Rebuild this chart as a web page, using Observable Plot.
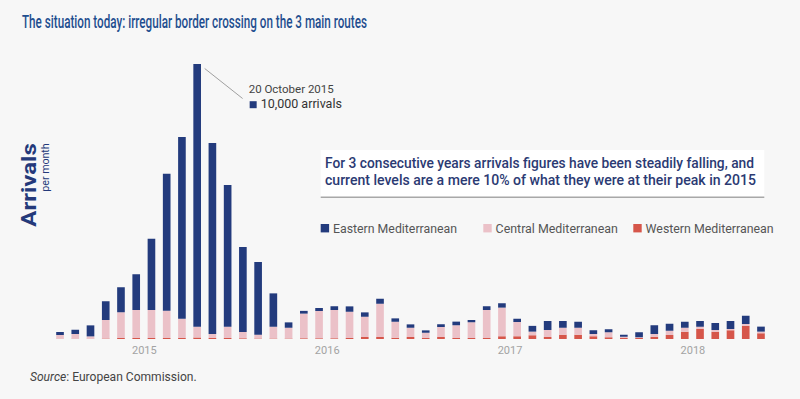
<!DOCTYPE html>
<html>
<head>
<meta charset="utf-8">
<script src="https://cdn.jsdelivr.net/npm/d3@7"></script>
<script src="https://cdn.jsdelivr.net/npm/@observablehq/plot@0.6"></script>
<style>
  html, body { margin: 0; padding: 0; background: #f7f7f7; overflow: hidden; }
  #wrap { position: relative; width: 800px; height: 399px; background: #f7f7f7; font-family: Roboto, "Open Sans", sans-serif; }
  #wrap svg { position: absolute; left: 0; top: 0; }
</style>
</head>
<body>
<div id="wrap"></div>
<script>
// ---- data (thousands of arrivals per month) ----
const months = [
  "2015-01","2015-02","2015-03","2015-04","2015-05","2015-06","2015-07","2015-08","2015-09","2015-10","2015-11","2015-12",
  "2016-01","2016-02","2016-03","2016-04","2016-05","2016-06","2016-07","2016-08","2016-09","2016-10","2016-11","2016-12",
  "2017-01","2017-02","2017-03","2017-04","2017-05","2017-06","2017-07","2017-08","2017-09","2017-10","2017-11","2017-12",
  "2018-01","2018-02","2018-03","2018-04","2018-05","2018-06","2018-07","2018-08","2018-09","2018-10","2018-11"
];
const eastern = [
  2.4, 3.4, 8.8, 15.0, 20.0, 28.6, 57.0, 109.6, 145.4, 210.2, 152.8, 113.4,
  68.0, 58.2, 26.7, 4.3, 2.2, 2.4, 3.0, 4.3, 3.5, 4.0, 2.7, 2.7,
  1.9, 2.2, 2.9, 1.8, 3.0, 3.5, 2.6, 4.6, 7.2, 5.4, 4.8, 3.0,
  2.4, 1.6, 4.0, 7.0, 5.6, 4.8, 4.6, 5.6, 6.4, 6.6, 4.0
];
const central = [
  3.0, 3.8, 1.9, 14.8, 20.6, 22.4, 22.4, 21.8, 15.4, 8.6, 3.2, 9.0,
  5.0, 3.0, 9.4, 8.6, 19.7, 21.8, 22.6, 21.0, 16.2, 26.6, 12.8, 7.4,
  4.2, 8.0, 10.2, 12.6, 22.4, 22.9, 11.4, 2.9, 5.6, 5.6, 5.6, 1.8,
  4.0, 1.0, 0.6, 2.2, 3.4, 3.2, 1.8, 1.4, 1.0, 1.4, 1.3
];
const western = [
  0.2, 0.2, 0.2, 0.4, 0.8, 0.8, 0.8, 0.8, 0.8, 1.2, 0.8, 0.8,
  0.6, 0.4, 0.4, 0.4, 0.6, 0.6, 0.6, 0.8, 1.6, 1.6, 1.0, 1.6,
  0.8, 1.6, 0.8, 0.8, 0.8, 2.2, 2.2, 3.0, 1.6, 3.4, 3.4, 2.2,
  1.4, 0.8, 0.8, 1.8, 3.2, 5.8, 8.0, 5.8, 7.0, 10.6, 4.6
];
const routes = ["Eastern Mediterranean", "Central Mediterranean", "Western Mediterranean"];
const routeColors = ["#233b7d", "#ebc1c8", "#d6564a"];
const yearLabels = ["2015", "2016", "2017", "2018"];
const titleText = "The situation today: irregular border crossing on the 3 main routes";
const boxLines = [
  "For 3 consecutive years arrivals figures have been steadily falling, and",
  "current levels are a mere 10% of what they were at their peak in 2015"
];
const annotationDate = "20 October 2015";
const annotationValue = "10,000 arrivals";

// ---- build stacked segments (west at bottom, then central, then east) ----
const segments = [];
const totals = [];
months.forEach((m, i) => {
  const w = western[i], c = central[i], e = eastern[i];
  segments.push({i, route: routes[2], y1: 0, y2: w});
  segments.push({i, route: routes[1], y1: w, y2: w + c});
  segments.push({i, route: routes[0], y1: w + c, y2: w + c + e});
  totals.push({i, total: w + c + e});
});
const peak = totals.reduce((a, b) => (b.total > a.total ? b : a));

const chart = Plot.plot({
  width: 800,
  height: 399,
  marginLeft: 52.4,
  marginRight: 31.4,
  marginTop: 64,
  marginBottom: 60,
  style: {background: "transparent", fontFamily: "Roboto, 'Open Sans', sans-serif"},
  x: {type: "linear", domain: [0, months.length], axis: null},
  y: {domain: [0, 220], axis: null},
  color: {domain: routes, range: routeColors},
  marks: [
    Plot.rect(segments, {
      x1: "i", x2: d => d.i + 1, y1: "y1", y2: "y2",
      fill: "route", insetLeft: 3.8, insetRight: 3.8
    }),
    Plot.text(yearLabels, {
      x: d => months.indexOf(d + "-07"), y: () => 0,
      text: d => d, dy: 11, fontSize: 11, fill: "#a3a3a3"
    }),
    Plot.link([peak], {
      x1: d => d.i + 0.5 + 0.46, y1: d => d.total - 3.2,
      x2: d => d.i + 0.5 + 2.95, y2: d => d.total - 27.2,
      stroke: "#a0a0a0", strokeWidth: 1
    }),
    Plot.text([peak], {
      x: d => d.i + 0.5, y: "total", text: () => annotationDate,
      dx: 51, dy: 25.3, textAnchor: "start", fontSize: 11.5, fill: "#444"
    }),
    Plot.dot([peak], {
      x: d => d.i + 0.5, y: "total", symbol: "square", r: 3.95,
      fill: routeColors[0], dx: 55.5, dy: 40.2
    }),
    Plot.text([peak], {
      x: d => d.i + 0.5, y: "total", text: () => annotationValue,
      dx: 63, dy: 39.2, textAnchor: "start", fontSize: 12.5, fill: "#333"
    })
  ]
});
document.getElementById("wrap").appendChild(chart);

// ---- overlay texts (title, axis label, callout box, legend, source) ----
const ov = d3.create("svg").attr("width", 800).attr("height", 399)
  .style("pointer-events", "none")
  .attr("font-family", "Roboto, 'Open Sans', sans-serif");

function txt(x, y, s, size, fill, len, extra = {}) {
  const t = ov.append("text").attr("x", x).attr("y", y)
    .attr("font-size", size).attr("fill", fill).text(s);
  if (len) t.attr("textLength", len).attr("lengthAdjust", "spacingAndGlyphs");
  for (const k in extra) t.attr(k, extra[k]);
  return t;
}

// title
txt(22, 27.5, titleText, 18, "#1f4e8f", 345, {"font-weight": 500});

// vertical axis label
ov.append("text").attr("transform", "translate(36,143.3) rotate(-90)")
  .attr("text-anchor", "end").attr("font-size", 20).attr("font-weight", 700)
  .attr("fill", "#24397a").attr("textLength", 83.4).attr("lengthAdjust", "spacingAndGlyphs")
  .text("Arrivals");
ov.append("text").attr("transform", "translate(48.5,143.3) rotate(-90)")
  .attr("text-anchor", "end").attr("font-size", 11.5)
  .attr("fill", "#24397a").attr("textLength", 48.4).attr("lengthAdjust", "spacingAndGlyphs")
  .text("per month");

// callout box
ov.append("rect").attr("x", 320.7).attr("y", 150).attr("width", 443.6).attr("height", 47.3).attr("fill", "#ffffff");
ov.append("line").attr("x1", 320.7).attr("x2", 764.3).attr("y1", 197.3).attr("y2", 197.3)
  .attr("stroke", "#a8a8a8").attr("stroke-width", 1.5);
txt(325, 167.7, boxLines[0], 14.5, "#2b3a73", 429, {"font-weight": 500});
txt(325, 185, boxLines[1], 14.5, "#2b3a73", 431, {"font-weight": 500});

// legend
const legendX = [320.7, 483.3, 633.3];
const legendLen = [124, 122.3, 128];
routes.forEach((r, k) => {
  ov.append("rect").attr("x", legendX[k]).attr("y", 224).attr("width", 8.4).attr("height", 8.4).attr("fill", routeColors[k]);
  txt(legendX[k] + 12.3, 232.7, r, 12, "#555", legendLen[k]);
});

// source
const src = ov.append("text").attr("x", 30).attr("y", 381.3).attr("font-size", 12).attr("fill", "#444")
  .attr("textLength", 166.7).attr("lengthAdjust", "spacingAndGlyphs");
src.append("tspan").attr("font-style", "italic").text("Source");
src.append("tspan").text(": European Commission.");

document.getElementById("wrap").appendChild(ov.node());
</script>
</body>
</html>
